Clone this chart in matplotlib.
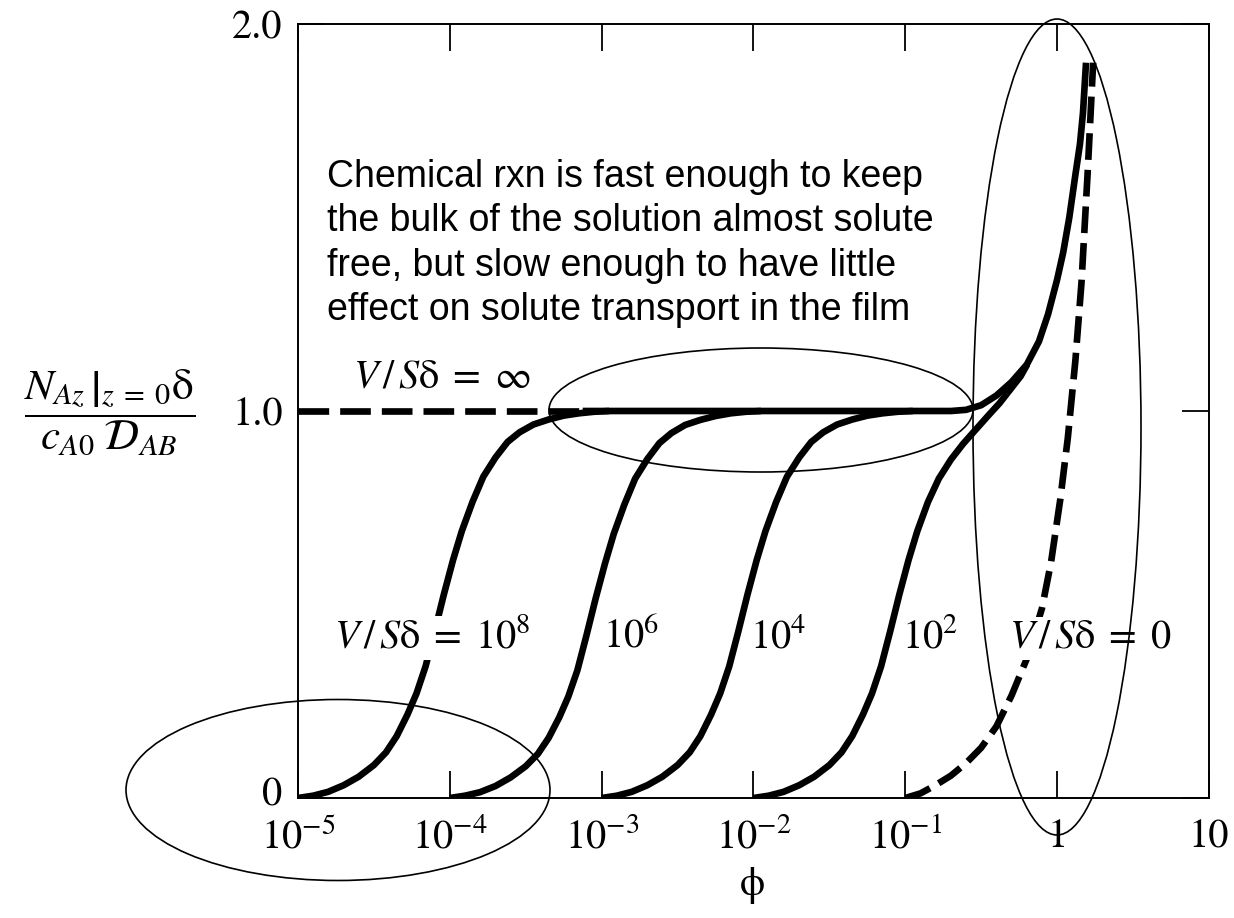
import matplotlib
matplotlib.use("Agg")
import matplotlib.pyplot as plt
from matplotlib.patches import Ellipse
from matplotlib.ticker import NullLocator
from matplotlib.transforms import ScaledTranslation

plt.rcParams['font.family'] = 'STIXGeneral'
plt.rcParams['mathtext.fontset'] = 'stix'

W, H = 1234, 918

# values
x_ticks = [1e-5, 1e-4, 1e-3, 1e-2, 1e-1, 1, 10]
x_tick_labels = [r'$10^{-5}$', r'$10^{-4}$', r'$10^{-3}$', r'$10^{-2}$', r'$10^{-1}$', '1', '10']
y_ticks = [0, 1.0, 2.0]
y_tick_labels = ['0', '1.0', '2.0']

phi_1e8 = [1.00e-5, 1.26e-5, 1.58e-5, 2.00e-5, 2.51e-5, 3.16e-5, 3.80e-5, 4.47e-5, 5.25e-5,
           6.03e-5, 6.92e-5, 7.94e-5, 9.12e-5, 1.05e-4, 1.20e-4, 1.41e-4, 1.66e-4, 2.00e-4,
           2.40e-4, 2.88e-4, 3.55e-4, 4.47e-4, 5.62e-4, 7.08e-4, 8.91e-4, 1.12e-3]
flux_1e8 = [0, 0.006, 0.016, 0.033, 0.055, 0.085, 0.118, 0.16, 0.215,
            0.27, 0.34, 0.43, 0.525, 0.615, 0.69, 0.765, 0.83, 0.88,
            0.92, 0.945, 0.965, 0.978, 0.988, 0.994, 0.998, 1.0]

phi_1e6 = [1.00e-4, 1.26e-4, 1.58e-4, 2.00e-4, 2.51e-4, 3.16e-4, 3.80e-4, 4.47e-4, 5.25e-4,
           6.03e-4, 6.92e-4, 7.94e-4, 9.12e-4, 1.05e-3, 1.20e-3, 1.41e-3, 1.66e-3, 2.00e-3,
           2.40e-3, 2.88e-3, 3.55e-3, 4.47e-3, 5.62e-3, 7.08e-3, 8.91e-3, 1.12e-2]
flux_1e6 = [0, 0.006, 0.015, 0.031, 0.053, 0.082, 0.114, 0.155, 0.208,
            0.262, 0.33, 0.42, 0.515, 0.605, 0.682, 0.758, 0.825, 0.876,
            0.917, 0.943, 0.964, 0.977, 0.987, 0.994, 0.998, 1.0]

phi_1e4 = [1.00e-3, 1.26e-3, 1.58e-3, 2.00e-3, 2.51e-3, 3.16e-3, 3.80e-3, 4.47e-3, 5.25e-3,
           6.03e-3, 6.92e-3, 7.94e-3, 9.12e-3, 1.05e-2, 1.20e-2, 1.41e-2, 1.66e-2, 2.00e-2,
           2.40e-2, 2.88e-2, 3.55e-2, 4.47e-2, 5.62e-2, 7.08e-2, 8.91e-2, 1.12e-1]
flux_1e4 = [0, 0.006, 0.016, 0.033, 0.055, 0.085, 0.118, 0.16, 0.215,
            0.27, 0.34, 0.43, 0.525, 0.615, 0.69, 0.765, 0.83, 0.88,
            0.92, 0.945, 0.965, 0.978, 0.988, 0.994, 0.998, 1.0]

phi_1e2 = [1.00e-2, 1.26e-2, 1.58e-2, 2.00e-2, 2.51e-2, 3.16e-2, 3.80e-2, 4.47e-2, 5.25e-2,
           6.03e-2, 6.92e-2, 7.94e-2, 9.12e-2, 0.105, 0.120, 0.141, 0.166, 0.200,
           0.240, 0.288, 0.355, 0.417, 0.501, 0.575, 0.634]
flux_1e2 = [0, 0.006, 0.016, 0.033, 0.055, 0.085, 0.118, 0.16, 0.215,
            0.27, 0.34, 0.43, 0.525, 0.615, 0.69, 0.765, 0.825, 0.875,
            0.915, 0.95, 0.99, 1.02, 1.06, 1.09, 1.12]

phi_inf = [1e-5, 7.5e-4, 0.2, 0.251, 0.316, 0.398, 0.501, 0.631, 0.759, 0.871,
           1.0, 1.096, 1.202, 1.318, 1.413, 1.479, 1.549]
flux_inf = [1.0, 1.0, 1.0, 1.003, 1.015, 1.04, 1.075, 1.12, 1.18, 1.25,
            1.34, 1.41, 1.50, 1.61, 1.69, 1.77, 1.90]
phi_inf_dash_end = 7.5e-4

phi_0 = [0.1, 0.126, 0.158, 0.2, 0.251, 0.316, 0.398, 0.501, 0.631, 0.794,
         0.912, 1.047, 1.175, 1.318, 1.445, 1.585, 1.726]
flux_0 = [0, 0.012, 0.033, 0.058, 0.09, 0.13, 0.185, 0.265, 0.36, 0.49,
          0.61, 0.77, 0.93, 1.13, 1.33, 1.61, 1.90]

note_lines = ["Chemical rxn is fast enough to keep",
              "the bulk of the solution almost solute",
              "free, but slow enough to have little",
              "effect on solute transport in the film"]


def px(x, y):
    # pixel position in the picture -> figure fraction
    return x / W, 1 - y / H


fig = plt.figure(figsize=(W / 100, H / 100), dpi=100)
l, b = px(298, 798)
r, t = px(1209, 24)
ax = fig.add_axes([l, b, r - l, t - b])

lw = 4.8
solid = dict(color='black', lw=lw, solid_capstyle='butt', solid_joinstyle='round')

ax.plot(phi_1e8, flux_1e8, **solid)
ax.plot(phi_1e6, flux_1e6, **solid)
ax.plot(phi_1e4, flux_1e4, **solid)
ax.plot(phi_1e2, flux_1e2, **solid)

# V/S delta = infinity: dashed at the far left, solid after the 1e8 curve joins it
n_dash = len([p for p in phi_inf if p <= phi_inf_dash_end])
ax.plot(phi_inf[:n_dash], flux_inf[:n_dash], color='black', lw=lw,
        linestyle=(0, (4.6, 1.65)), dash_capstyle='butt')
ax.plot(phi_inf[n_dash - 1:], flux_inf[n_dash - 1:], **solid)

ax.plot(phi_0, flux_0, color='black', lw=lw, linestyle=(0, (4.0, 1.5)), dash_capstyle='butt')

ax.set_xscale('log')
ax.set_xlim(1e-5, 10)
ax.set_ylim(0, 2.0)
ax.set_xticks(x_ticks)
ax.set_xticklabels(x_tick_labels)
ax.xaxis.set_minor_locator(NullLocator())
ax.set_yticks(y_ticks)
ax.set_yticklabels(y_tick_labels)
ax.tick_params(direction='in', length=19.5, width=1.3, top=True, right=True, labelsize=29)
ax.tick_params(axis='x', pad=15)
ax.tick_params(axis='y', pad=11)
for s in ax.spines.values():
    s.set_linewidth(1.4)

# the "0" sits a little above the corner so it clears 10^-5
zero_label = ax.get_yticklabels()[0]
zero_label.set_transform(zero_label.get_transform() + ScaledTranslation(0, 5 / 72, fig.dpi_scale_trans))

fig.text(*px(752, 886), r'$\mathrm{\phi}$', fontsize=29, ha='center', va='center')

fig.text(*px(110, 412),
         r'$\dfrac{\left. N_{Az}\,\right|_{z\;=\;0}\mathrm{\delta}}{c_{A0}\;\mathcal{D}_{AB}}$',
         fontsize=31, ha='center', va='center')

white = dict(facecolor='white', edgecolor='none', pad=2)
fig.text(*px(353, 388), r'$V\,/\,S\mathrm{\delta}\;=\;\infty$', fontsize=29, va='baseline')
fig.text(*px(334, 648), r'$V\,/\,S\mathrm{\delta}\;=\;10^{8}$', fontsize=29, va='baseline', bbox=white)
fig.text(*px(603, 648), r'$10^{6}$', fontsize=29, va='baseline')
fig.text(*px(750, 648), r'$10^{4}$', fontsize=29, va='baseline')
fig.text(*px(902, 648), r'$10^{2}$', fontsize=29, va='baseline')
fig.text(*px(1009, 648), r'$V\,/\,S\mathrm{\delta}\;=\;0$', fontsize=29, va='baseline', bbox=white)

for i, line in enumerate(note_lines):
    fig.text(*px(327, 187 + 44.3 * i), line, family='Liberation Sans', fontsize=27, va='baseline')

# hand-drawn ellipses
for cx, cy, w, h in [(338, 790, 424, 181), (761, 410, 424, 124), (1057, 427, 168, 816)]:
    e = Ellipse(px(cx, cy), w / W, h / H, transform=fig.transFigure,
                fill=False, edgecolor='black', lw=1.2, zorder=5)
    fig.add_artist(e)

fig.savefig('out.png', dpi=100)
